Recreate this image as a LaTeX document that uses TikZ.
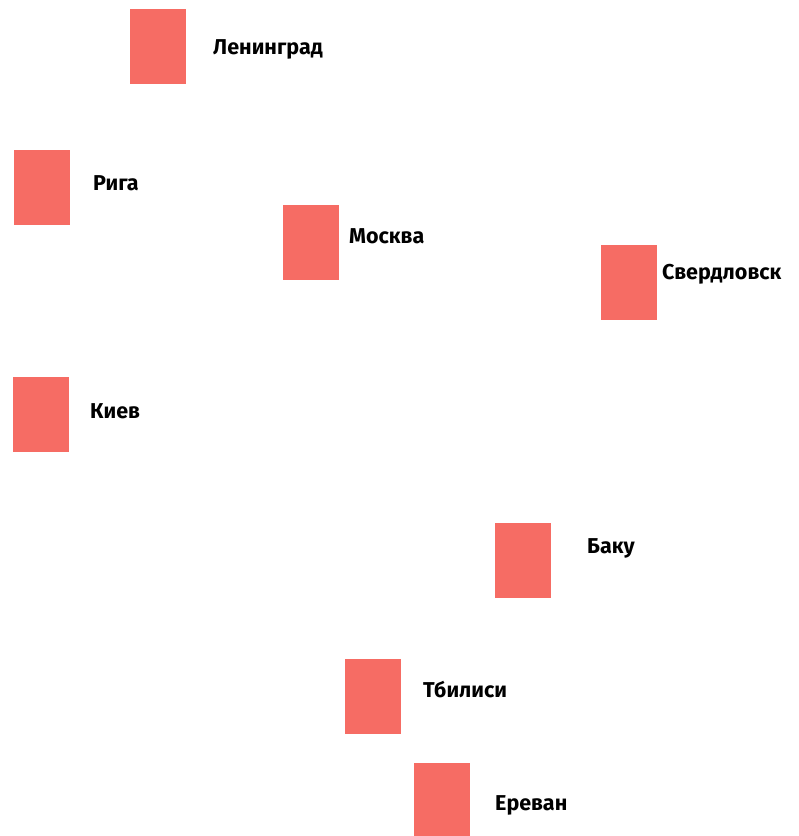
\documentclass[tikz,border=0pt]{standalone}
\usepackage{fontspec}
\setmainfont{Fira Sans}
\usepackage{tikz}
\usetikzlibrary{positioning}
\definecolor{CitySalmon}{RGB}{246,108,100}

\begin{document}
\begin{tikzpicture}[
        x=1pt, y=-1pt,
        font=\fontsize{21.5}{24}\selectfont\bfseries,
        city/.style={
            fill=CitySalmon,
            draw=none,
            anchor=north west,
            minimum width=56pt,
            minimum height=75pt,
            inner sep=0pt
        },
        cityname/.style={
            text=black,
            anchor=west,
            inner sep=0pt,
            yshift=-2pt
        }
    ]
    \useasboundingbox (0,0) rectangle (799,836);

    % North
    \node[city] (leningrad) at (130,9) {};
    \node[cityname] (leningradlabel) at (213,47) {Ленинград};

    \node[city] (riga) at (14,150) {};
    \node[cityname] (rigalabel) at (93,181) {Рига};

    \node[city] (moskva) at (283,205) {};
    \node[cityname] (moskvalabel) at (349,234) {Москва};

    \node[city] (sverdlovsk) at (601,245) {};
    \node[cityname] (sverdlovsklabel) at (662,272) {Свердловск};

    \node[city] (kiev) at (13,377) {};
    \node[cityname] (kievlabel) at (90,409) {Киев};

    % South
    \node[city] (baku) at (495,523) {};
    \node[cityname] (bakulabel) at (587,546) {Баку};

    \node[city] (tbilisi) at (345,659) {};
    \node[cityname] (tbilisilabel) at (423,688) {Тбилиси};

    \node[city] (erevan) at (414,763) {};
    \node[cityname] (erevanlabel) at (495,803) {Ереван};

\end{tikzpicture}
\end{document}
